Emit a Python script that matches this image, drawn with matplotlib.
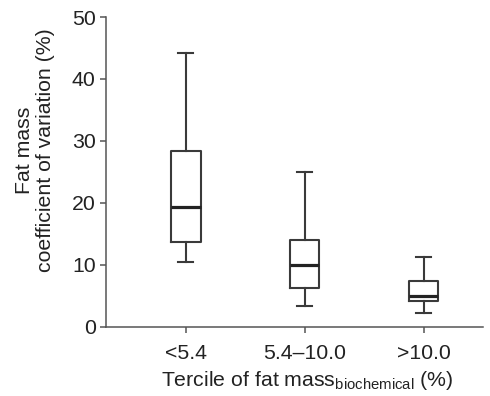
import matplotlib
matplotlib.use("Agg")
import matplotlib.pyplot as plt

plt.rcParams['font.family'] = ['Liberation Sans', 'DejaVu Sans']
plt.rcParams['mathtext.fontset'] = 'custom'
plt.rcParams['mathtext.rm'] = 'Liberation Sans'

# tercile groups and box statistics (%)
groups = ['<5.4', '5.4\u201310.0', '>10.0']
whis_lo = [10.4, 3.3, 2.2]
q1 = [13.6, 6.2, 4.1]
median = [19.4, 9.9, 4.9]
q3 = [28.3, 14.0, 7.4]
whis_hi = [44.2, 25.0, 11.3]

stats = [dict(label=g, whislo=lo, q1=a, med=m, q3=b, whishi=hi)
         for g, lo, a, m, b, hi in zip(groups, whis_lo, q1, median, q3, whis_hi)]

line_col = '#3a3a3a'
fs = 15.3
fig = plt.figure(figsize=(4.9, 3.96), dpi=100)
ax = fig.add_axes([0.2163, 0.175, 0.7694, 0.782])

ax.bxp(stats, positions=[1, 2, 3], widths=0.25, capwidths=0.125, showfliers=False,
       boxprops=dict(color=line_col, linewidth=1.5),
       whiskerprops=dict(color=line_col, linewidth=1.5),
       capprops=dict(color=line_col, linewidth=1.5),
       medianprops=dict(color='#222222', linewidth=2.3))

ax.set_xlim(0.33, 3.5)
ax.set_ylim(0, 50)
ax.set_yticks([0, 10, 20, 30, 40, 50])
ax.set_xticks([1, 2, 3])
ax.set_xticklabels(groups)

for s in ['top', 'right']:
    ax.spines[s].set_visible(False)
for s in ['left', 'bottom']:
    ax.spines[s].set_color('#555555')
    ax.spines[s].set_linewidth(1.1)

ax.tick_params(axis='both', colors='#555555', width=1.1, length=4.5,
               labelsize=fs, labelcolor='#222222')
ax.tick_params(axis='x', pad=8)
ax.tick_params(axis='y', pad=3)

ax.set_ylabel('Fat mass\ncoefficient of variation (%)', fontsize=fs,
              color='#222222', linespacing=1.15)
ax.yaxis.set_label_coords(-0.135, 0.571)
ax.set_xlabel(r'Tercile of fat mass$_{\mathregular{biochemical}}$ (%)',
              fontsize=fs, color='#222222')
ax.xaxis.set_label_coords(0.533, -0.135)

fig.savefig('out.png', dpi=100)
